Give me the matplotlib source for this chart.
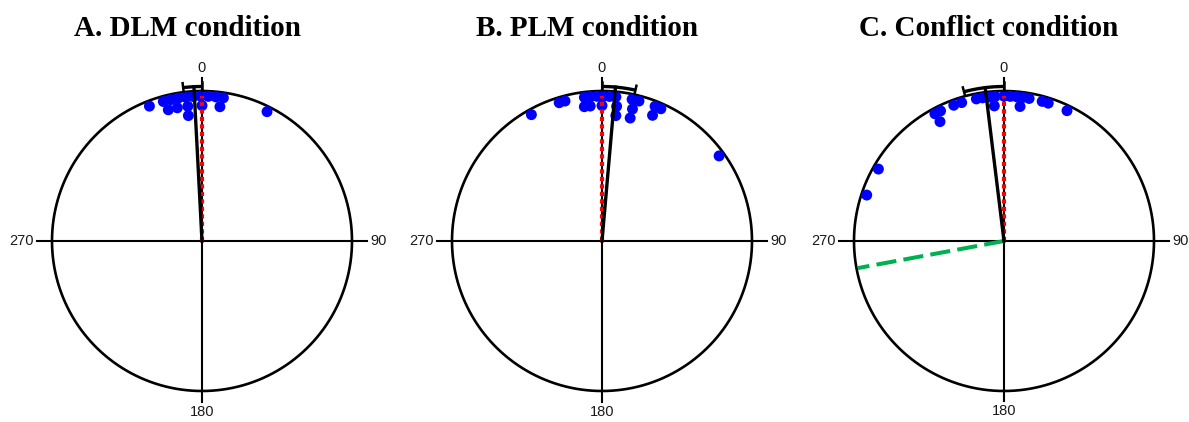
import numpy as np
import matplotlib
matplotlib.use("Agg")
import matplotlib.pyplot as plt

# Response directions (compass degrees, 0 = up, clockwise positive)
dlm_responses = [-21.3, -15.5, -12.5, -9.5, -6.5, -3.5, -0.5, 2.5, 5.5, 8.5, 26.7,
                 -14.4, -10.5, -6.0, 0.0, 7.6, -6.2]
plm_responses = [-29.2, -17.2, -14.8, -7.0, -4.5, -2.0, 0.5, 3.0, 5.5,
                 12.0, 14.8, 21.5, 24.0, 54.0,
                 -7.5, -5.0, 0.0, 6.2, 13.0, 21.9, 6.3, 12.9]
conflict_responses = [-71.5, -60.2, -28.5, -26.0, -20.3, -17.0, -11.0, -8.5, -6.0,
                      -3.5, 0.0, 2.5, 5.0, 7.5, 10.0, 15.3, 17.8, 25.8,
                      -28.2, -4.1, 6.8]

titles = ["A. DLM condition", "B. PLM condition", "C. Conflict condition"]
responses = [dlm_responses, plm_responses, conflict_responses]
mean_dir = [-3.0, 5.0, -7.0]
ci_low = [-7.0, 0.0, -15.0]
ci_high = [0.0, 12.5, 0.0]
target_dir = [0.0, 0.0, 0.0]
conflict_dir = [None, None, 259.5]
axis_labels = ["0", "90", "180", "270"]

W, H, DPI = 1189, 422, 100
R_PX = 150.0
centers_px = [(202, 241), (602, 241), (1004, 241)]
XL, XR, YB, YT = -1.3, 1.3, -1.2, 1.6


def polar(deg, r):
    t = np.deg2rad(np.asarray(deg, dtype=float))
    return r * np.sin(t), r * np.cos(t)


def stack_rings(angles, thr=2.0):
    placed = []
    rings = []
    for a in angles:
        ring = 0
        while any(rr == ring and abs(a - b) < thr for b, rr in placed):
            ring += 1
        placed.append((a, ring))
        rings.append(ring)
    return np.array(rings)


fig = plt.figure(figsize=(W / DPI, H / DPI), dpi=DPI)

for i, (cx, cy) in enumerate(centers_px):
    left = (cx + XL * R_PX) / W
    bottom = ((H - cy) + YB * R_PX) / H
    ax = fig.add_axes([left, bottom, (XR - XL) * R_PX / W, (YT - YB) * R_PX / H])
    ax.set_xlim(XL, XR)
    ax.set_ylim(YB, YT)
    ax.set_aspect("equal")
    ax.axis("off")
    ax.patch.set_alpha(0)

    # unit circle
    th = np.linspace(0, 360, 721)
    ax.plot(*polar(th, 1.0), color="black", lw=1.9, zorder=2)
    # axis cross
    ax.plot([-1.1, 1.1], [0, 0], color="black", lw=1.5, zorder=2)
    ax.plot([0, 0], [-1.07, 1.09], color="black", lw=1.5, zorder=2)

    tk = dict(fontsize=10.5, family="Liberation Sans", color="#1a1a1a")
    ax.text(0, 1.11, axis_labels[0], ha="center", va="bottom", **tk)
    ax.text(1.12, 0, axis_labels[1], ha="left", va="center", **tk)
    ax.text(0, -1.09, axis_labels[2], ha="center", va="top", **tk)
    ax.text(-1.12, 0, axis_labels[3], ha="right", va="center", **tk)

    # stacked response dots
    ang = np.array(responses[i])
    rings = stack_rings(ang)
    xs, ys = polar(ang, 0.965 - 0.062 * rings)
    ax.scatter(xs, ys, s=62, color="#0000ff", edgecolors="none", zorder=3)

    # conflicting cue direction
    if conflict_dir[i] is not None:
        gx, gy = polar(conflict_dir[i], 0.99)
        ax.plot([0, gx], [0, gy], color="#00b050", lw=2.9,
                dashes=(5, 1.8), solid_capstyle="butt", zorder=4)

    # target direction
    tx, ty = polar(target_dir[i], 0.965)
    ax.plot([0, tx], [0, ty], color="#ff0000", lw=3.0,
            dashes=(1.0, 0.8), zorder=5)

    # mean direction with confidence arc
    rm = 1.03
    mx, my = polar(mean_dir[i], rm)
    ax.plot([0, mx], [0, my], color="black", lw=2.4, zorder=6)
    arc = np.linspace(ci_low[i], ci_high[i], 60)
    ax.plot(*polar(arc, rm), color="black", lw=2.4, zorder=6,
            solid_capstyle="butt")
    for e in (ci_low[i], ci_high[i]):
        ex, ey = polar([e, e], [rm - 0.025, rm + 0.03])
        ax.plot(ex, ey, color="black", lw=1.8, zorder=6)

    ax.text(-0.1, (cy - 28) / R_PX, titles[i], ha="center", va="center",
            fontsize=21, fontweight="bold", family="Liberation Serif")

fig.savefig("out.png", dpi=DPI)
